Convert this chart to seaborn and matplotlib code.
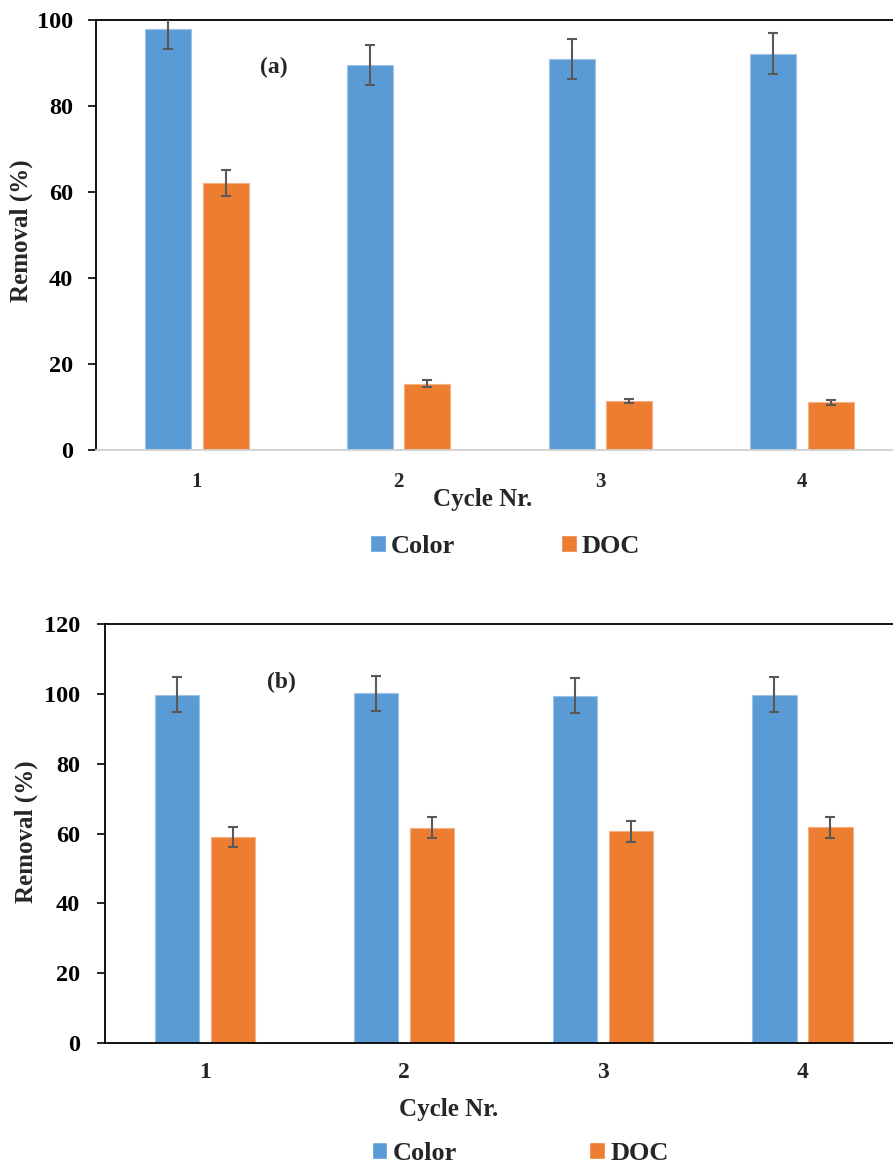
import matplotlib
matplotlib.use("Agg")
import matplotlib.pyplot as plt
import seaborn as sns
import pandas as pd

# ---- data ----
cycles = ["1", "2", "3", "4"]
series = ["Color", "DOC"]

a_color = [98.0, 89.5, 90.9, 92.2]
a_color_err = [4.8, 4.7, 4.6, 4.7]
a_doc = [62.1, 15.4, 11.4, 11.1]
a_doc_err = [3.1, 0.8, 0.5, 0.6]

b_color = [99.8, 100.1, 99.5, 99.8]
b_color_err = [5.0, 5.0, 5.0, 5.0]
b_doc = [59.0, 61.6, 60.7, 61.8]
b_doc_err = [3.0, 3.0, 3.0, 3.0]

blue = "#5B9BD5"
orange = "#ED7D31"
err_col = "#595959"

sns.set_style("white")
plt.rcParams["font.family"] = ["Liberation Serif", "DejaVu Serif"]
plt.rcParams["font.weight"] = "bold"

W, H = 893, 1166
fig = plt.figure(figsize=(W / 100, H / 100), dpi=100)


def panel(ax, color_vals, color_err, doc_vals, doc_err, ymax, width, gap,
          bottom_spine_col, xtick_size, xtick_pad, ytick_pad, letter, letter_xy,
          xlabel_xy, ylabel_xy, legend_anchor_fig, colspace):
    df = pd.DataFrame({
        "Cycle": cycles * 2,
        "Removal": list(color_vals) + list(doc_vals),
        "Series": [series[0]] * len(cycles) + [series[1]] * len(cycles),
    })
    sns.barplot(data=df, x="Cycle", y="Removal", hue="Series",
                palette=[blue, orange], width=width, gap=gap,
                errorbar=None, ax=ax, saturation=1, legend=True)
    for cont, errs, ec in zip(ax.containers, [color_err, doc_err],
                              ["#9DC3E6", "#F4B183"]):
        xs = [p.get_x() + p.get_width() / 2 for p in cont.patches]
        hs = [p.get_height() for p in cont.patches]
        for p in cont.patches:
            p.set_edgecolor(ec)
            p.set_linewidth(0.8)
        ax.errorbar(xs, hs, yerr=errs, fmt="none", ecolor=err_col,
                    elinewidth=1.5, capsize=3.3, capthick=1.5, zorder=5)
    ax.set_xlim(-0.5, 3.5)
    ax.set_ylim(0, ymax)
    ax.set_yticks(range(0, ymax + 1, 20))
    for s in ["left", "top"]:
        ax.spines[s].set_visible(True)
        ax.spines[s].set_color("black")
        ax.spines[s].set_linewidth(1.3)
    ax.spines["right"].set_visible(False)
    ax.spines["bottom"].set_color(bottom_spine_col)
    ax.spines["bottom"].set_linewidth(1.3)
    ax.tick_params(axis="y", left=True, direction="out", length=5.5, width=1.2,
                   labelsize=17.5, pad=ytick_pad, colors="black")
    ax.tick_params(axis="x", bottom=False, length=0, labelsize=xtick_size,
                   pad=xtick_pad)
    for lab in ax.get_xticklabels() + ax.get_yticklabels():
        lab.set_fontweight("bold")
    ax.set_xlabel("Cycle Nr.", fontsize=18, fontweight="bold")
    ax.xaxis.set_label_coords(*xlabel_xy)
    ax.set_ylabel("Removal (%)", fontsize=18, fontweight="bold")
    ax.yaxis.set_label_coords(*ylabel_xy)
    ax.text(letter_xy[0], letter_xy[1], letter, transform=ax.transAxes,
            fontsize=17, fontweight="bold", ha="center", va="center")
    handles, labels = ax.get_legend_handles_labels()
    ax.get_legend().remove()
    fig.legend(handles, labels, loc="center", bbox_to_anchor=legend_anchor_fig,
               ncol=2, frameon=False, handlelength=0.6,
               handleheight=0.6, handletextpad=0.2, columnspacing=colspace,
               borderpad=0.1, prop={"weight": "bold", "size": 19})


ax1 = fig.add_axes([96 / W, 1 - 450 / H, 807 / W, 430 / H])
panel(ax1, a_color, a_color_err, a_doc, a_doc_err, 100, 0.57, 0.2,
      "#D0D0D0", 15, 16, 11.0, "(a)", (0.2206, 0.8907),
      (0.4796, -0.088), (-0.078, 0.509), (505 / W, 1 - 546 / H), 4.0)

ax2 = fig.add_axes([105.3 / W, 1 - 1043 / H, 796.7 / W, 419 / H])
panel(ax2, b_color, b_color_err, b_doc, b_doc_err, 120, 0.562, 0.21,
      "black", 17, 14, 12.5, "(b)", (0.2205, 0.8616),
      (0.431, -0.131), (-0.0845, 0.5036), (520 / W, 1 - 1153 / H), 5.0)

fig.savefig("out.png", dpi=100, facecolor="white")
